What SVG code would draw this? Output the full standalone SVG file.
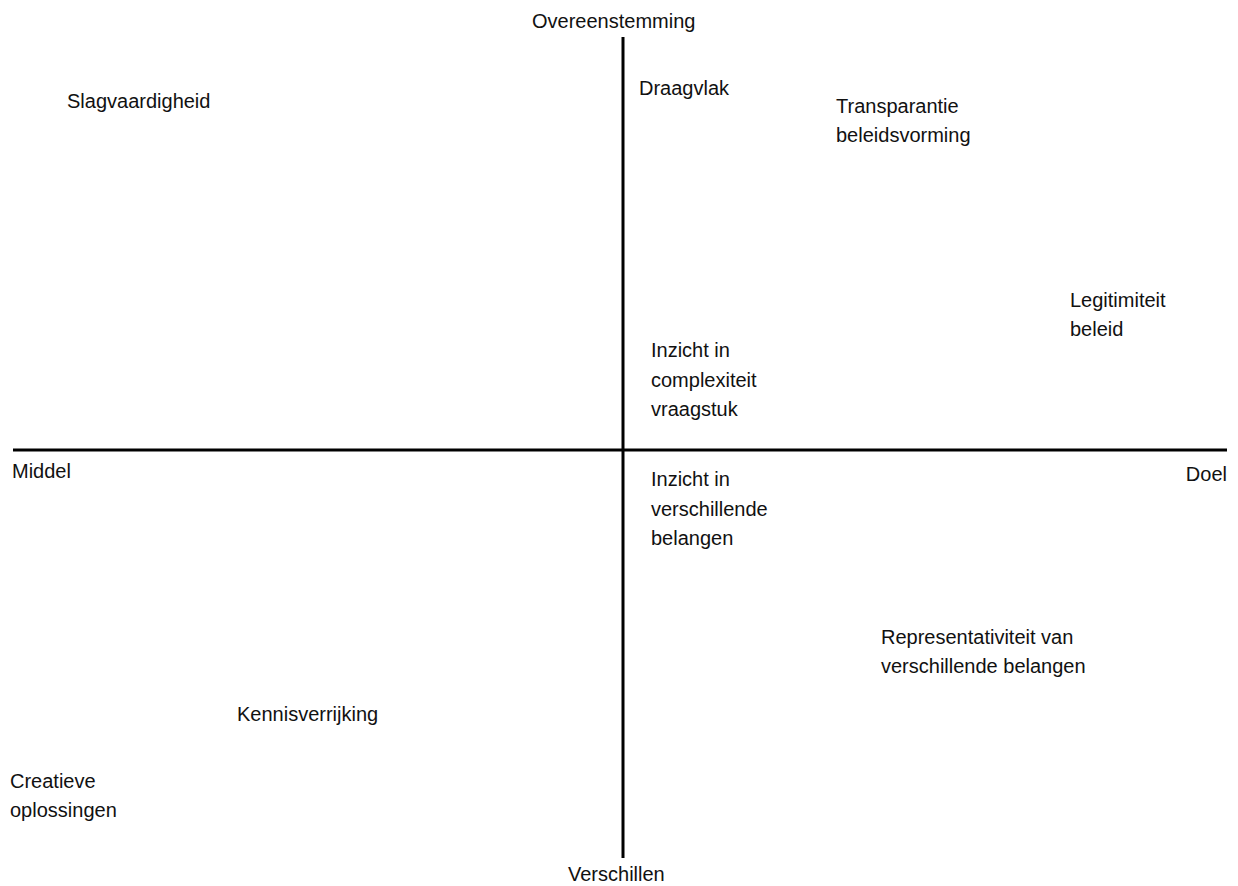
<svg xmlns="http://www.w3.org/2000/svg" width="1238" height="886" viewBox="0 0 1238 886">
<style>
text{font-family:"Liberation Sans",Arial,sans-serif;font-size:20px;fill:#111}
.axis{stroke:#000;stroke-width:3;fill:none}
</style>
<rect width="1238" height="886" fill="#fff"/>
<g id="connectors">
<line class="axis" x1="623" y1="37" x2="623" y2="858"/>
<line class="axis" x1="13" y1="450" x2="1227" y2="450"/>
</g>
<g id="axis-labels">
<text id="overeenstemming" x="532" y="28">Overeenstemming</text>
<text id="verschillen" x="568" y="881">Verschillen</text>
<text id="middel" x="12" y="478">Middel</text>
<text id="doel" x="1227" y="481" text-anchor="end">Doel</text>
</g>
<g id="slagvaardigheid"><text x="67" y="108">Slagvaardigheid</text></g>
<g id="draagvlak"><text x="639" y="95">Draagvlak</text></g>
<g id="transparantie"><text x="836" y="113">Transparantie</text><text x="836" y="142">beleidsvorming</text></g>
<g id="legitimiteit"><text x="1070" y="307">Legitimiteit</text><text x="1070" y="336">beleid</text></g>
<g id="inzicht-complexiteit"><text x="651" y="357">Inzicht in</text><text x="651" y="387">complexiteit</text><text x="651" y="416">vraagstuk</text></g>
<g id="inzicht-belangen"><text x="651" y="486">Inzicht in</text><text x="651" y="516">verschillende</text><text x="651" y="545">belangen</text></g>
<g id="representativiteit"><text x="881" y="644">Representativiteit van</text><text x="881" y="673">verschillende belangen</text></g>
<g id="kennisverrijking"><text x="237" y="721">Kennisverrijking</text></g>
<g id="creatieve"><text x="10" y="788">Creatieve</text><text x="10" y="817">oplossingen</text></g>
</svg>
